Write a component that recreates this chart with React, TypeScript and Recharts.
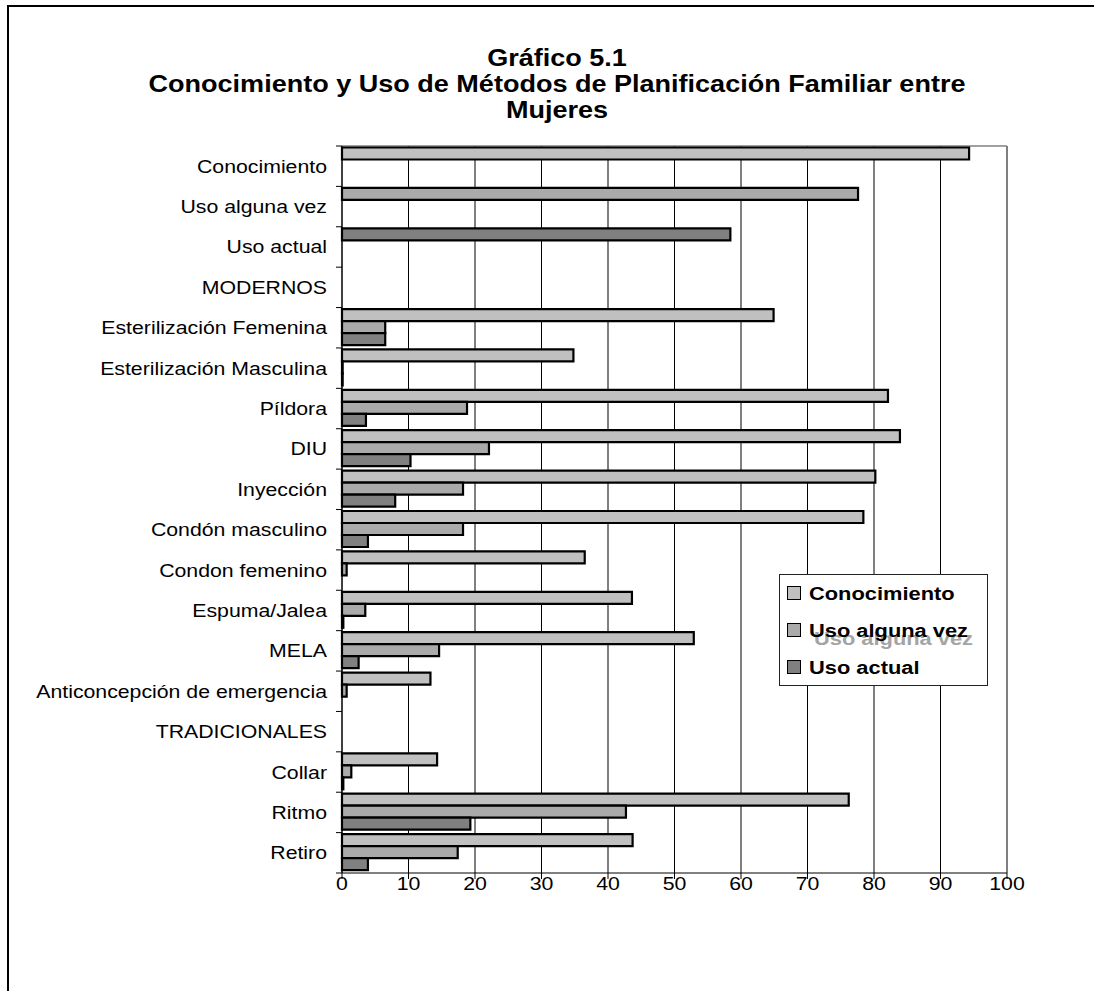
import React from "react";
import { BarChart, Bar, XAxis, YAxis, CartesianGrid, Cell, Legend } from "recharts";

const categories = [
  "Conocimiento",
  "Uso alguna vez",
  "Uso actual",
  "MODERNOS",
  "Esterilización Femenina",
  "Esterilización Masculina",
  "Píldora",
  "DIU",
  "Inyección",
  "Condón masculino",
  "Condon femenino",
  "Espuma/Jalea",
  "MELA",
  "Anticoncepción de emergencia",
  "TRADICIONALES",
  "Collar",
  "Ritmo",
  "Retiro",
];

const conocimiento = [94.3, 77.6, 58.4, null, 64.9, 34.8, 82.1, 83.9, 80.2, 78.4, 36.5, 43.6, 52.9, 13.3, null, 14.3, 76.2, 43.7];
const usoAlgunaVez = [null, null, null, null, 6.5, 0.1, 18.8, 22.1, 18.2, 18.2, 0.7, 3.5, 14.6, 0.7, null, 1.4, 42.7, 17.4];
const usoActual = [null, null, null, null, 6.5, 0.1, 3.6, 10.3, 8.0, 3.9, 0.0, 0.2, 2.5, 0.0, null, 0.2, 19.3, 3.9];

const xTicks = [0, 10, 20, 30, 40, 50, 60, 70, 80, 90, 100];
const titleLines = ["Gráfico 5.1", "Conocimiento y Uso de Métodos de Planificación Familiar entre", "Mujeres"];

const seriesNames = ["Conocimiento", "Uso alguna vez", "Uso actual"];
const seriesColors = ["#c0c0c0", "#aaaaaa", "#808080"];
// colours of the first three rows (all in the first series, individually coloured)
const headRowColors = ["#c0c0c0", "#aaaaaa", "#808080"];

const data = categories.map((c, i) => ({
  name: c,
  conocimiento: conocimiento[i],
  usoAlgunaVez: usoAlgunaVez[i],
  usoActual: usoActual[i],
}));

const W = 1094;
const H = 991;
const MARGIN = { top: 146, right: 87, bottom: 78, left: 12 };
const Y_AXIS_W = 330;
const X_AXIS_H = 40;
const PLOT_H = H - MARGIN.top - MARGIN.bottom - X_AXIS_H;
const BAND = PLOT_H / categories.length;
const Y_TICK_SIZE = 6;
const Y_TICK_MARGIN = 9;
const S = 1.15;
const FONT = "'Liberation Sans', Arial, sans-serif";

const YTick = (props: any) => {
  const { x, y, payload, index } = props;
  const axisX = x + Y_TICK_SIZE + Y_TICK_MARGIN;
  const yb = y - BAND / 2;
  return (
    <g>
      <line x1={axisX - Y_TICK_SIZE} x2={axisX} y1={yb} y2={yb} stroke="#000" strokeWidth={1} />
      {index === categories.length - 1 && (
        <line x1={axisX - Y_TICK_SIZE} x2={axisX} y1={y + BAND / 2} y2={y + BAND / 2} stroke="#000" strokeWidth={1} />
      )}
      <text
        x={0}
        y={0}
        transform={`translate(${x},${y}) scale(${S},1)`}
        textAnchor="end"
        dominantBaseline="central"
        fontFamily={FONT}
        fontSize={18.5}
        fill="#000"
      >
        {payload.value}
      </text>
    </g>
  );
};

const XTick = (props: any) => {
  const { x, y, payload } = props;
  return (
    <text
      x={0}
      y={0}
      transform={`translate(${x},${y + 3}) scale(${S},1)`}
      textAnchor="middle"
      dominantBaseline="central"
      fontFamily={FONT}
      fontSize={18.5}
      fill="#000"
    >
      {payload.value}
    </text>
  );
};

const LegendContent = (props: any) => {
  const payload = (props.payload || []) as any[];
  const items = seriesNames.map((n, i) => {
    const p = payload.find((q) => q.value === n);
    return { name: n, color: p ? p.color : seriesColors[i] };
  });
  const rowY = [19, 56, 93];
  return (
    <svg width={209} height={112} style={{ display: "block" }}>
      <rect x={0.5} y={0.5} width={208} height={111} fill="#fff" stroke="#222" strokeWidth={1} />
      <text
        x={0}
        y={0}
        transform={`translate(35,${rowY[1] + 8}) scale(${S},1)`}
        dominantBaseline="central"
        fontFamily={FONT}
        fontWeight="bold"
        fontSize={19}
        fill="#a4a4a4"
      >
        {items[1].name}
      </text>
      {items.map((it, i) => (
        <g key={it.name}>
          <rect x={8.5} y={rowY[i] - 6.5} width={13} height={13} fill={it.color} stroke="#000" strokeWidth={1} />
          <text
            x={0}
            y={0}
            transform={`translate(30,${rowY[i]}) scale(${S},1)`}
            dominantBaseline="central"
            fontFamily={FONT}
            fontWeight="bold"
            fontSize={19}
            fill="#000"
          >
            {it.name}
          </text>
        </g>
      ))}
    </svg>
  );
};

export default function App() {
  return (
    <div style={{ position: "absolute", left: 0, top: 0, width: W, height: H, overflow: "hidden", background: "#fff" }}>
      <div
        style={{
          position: "absolute",
          left: 7,
          top: 5,
          width: W - 7,
          height: H - 5,
          boxSizing: "border-box",
          borderTop: "2px solid #000",
          borderLeft: "2px solid #000",
        }}
      />
      {titleLines.map((t, i) => (
        <div
          key={i}
          style={{
            position: "absolute",
            left: 57,
            width: 1000,
            top: 45 + i * 26,
            height: 26,
            lineHeight: "26px",
            textAlign: "center",
            fontFamily: FONT,
            fontWeight: "bold",
            fontSize: 23.5,
            color: "#000",
            whiteSpace: "nowrap",
            transform: `scaleX(${S})`,
            transformOrigin: "center",
          }}
        >
          {t}
        </div>
      ))}
      <div style={{ position: "absolute", left: 0, top: 0 }}>
        <BarChart
          width={W}
          height={H}
          data={data}
          layout="vertical"
          margin={MARGIN}
          barCategoryGap={1.5}
          barGap={0}
        >
          <CartesianGrid horizontal={false} vertical={true} stroke="#000" strokeWidth={1} />
          <CartesianGrid
            vertical={false}
            horizontal={true}
            stroke="#808080"
            strokeWidth={1.5}
            horizontalCoordinatesGenerator={(p: any) => [p.offset.top]}
          />
          <XAxis
            type="number"
            domain={[0, 100]}
            ticks={xTicks}
            interval={0}
            height={X_AXIS_H}
            tickSize={6}
            tickMargin={2}
            axisLine={{ stroke: "#000" }}
            tickLine={{ stroke: "#000" }}
            tick={<XTick />}
          />
          <YAxis
            type="category"
            dataKey="name"
            width={Y_AXIS_W}
            interval={0}
            tickSize={Y_TICK_SIZE}
            tickMargin={Y_TICK_MARGIN}
            tickLine={false}
            axisLine={{ stroke: "#000" }}
            tick={<YTick />}
          />
          <Legend
            layout="horizontal"
            verticalAlign="middle"
            align="center"
            content={<LegendContent />}
            wrapperStyle={{ position: "absolute", left: 779, top: 574, width: 209, height: 112 }}
          />
          <Bar dataKey="conocimiento" name={seriesNames[0]} fill={seriesColors[0]} stroke="#000" strokeWidth={2.2} isAnimationActive={false}>
            {data.map((d, i) => (
              <Cell key={i} fill={i < 3 ? headRowColors[i] : seriesColors[0]} />
            ))}
          </Bar>
          <Bar dataKey="usoAlgunaVez" name={seriesNames[1]} fill={seriesColors[1]} stroke="#000" strokeWidth={2.2} isAnimationActive={false} />
          <Bar dataKey="usoActual" name={seriesNames[2]} fill={seriesColors[2]} stroke="#000" strokeWidth={2.2} isAnimationActive={false} />
        </BarChart>
      </div>
    </div>
  );
}
